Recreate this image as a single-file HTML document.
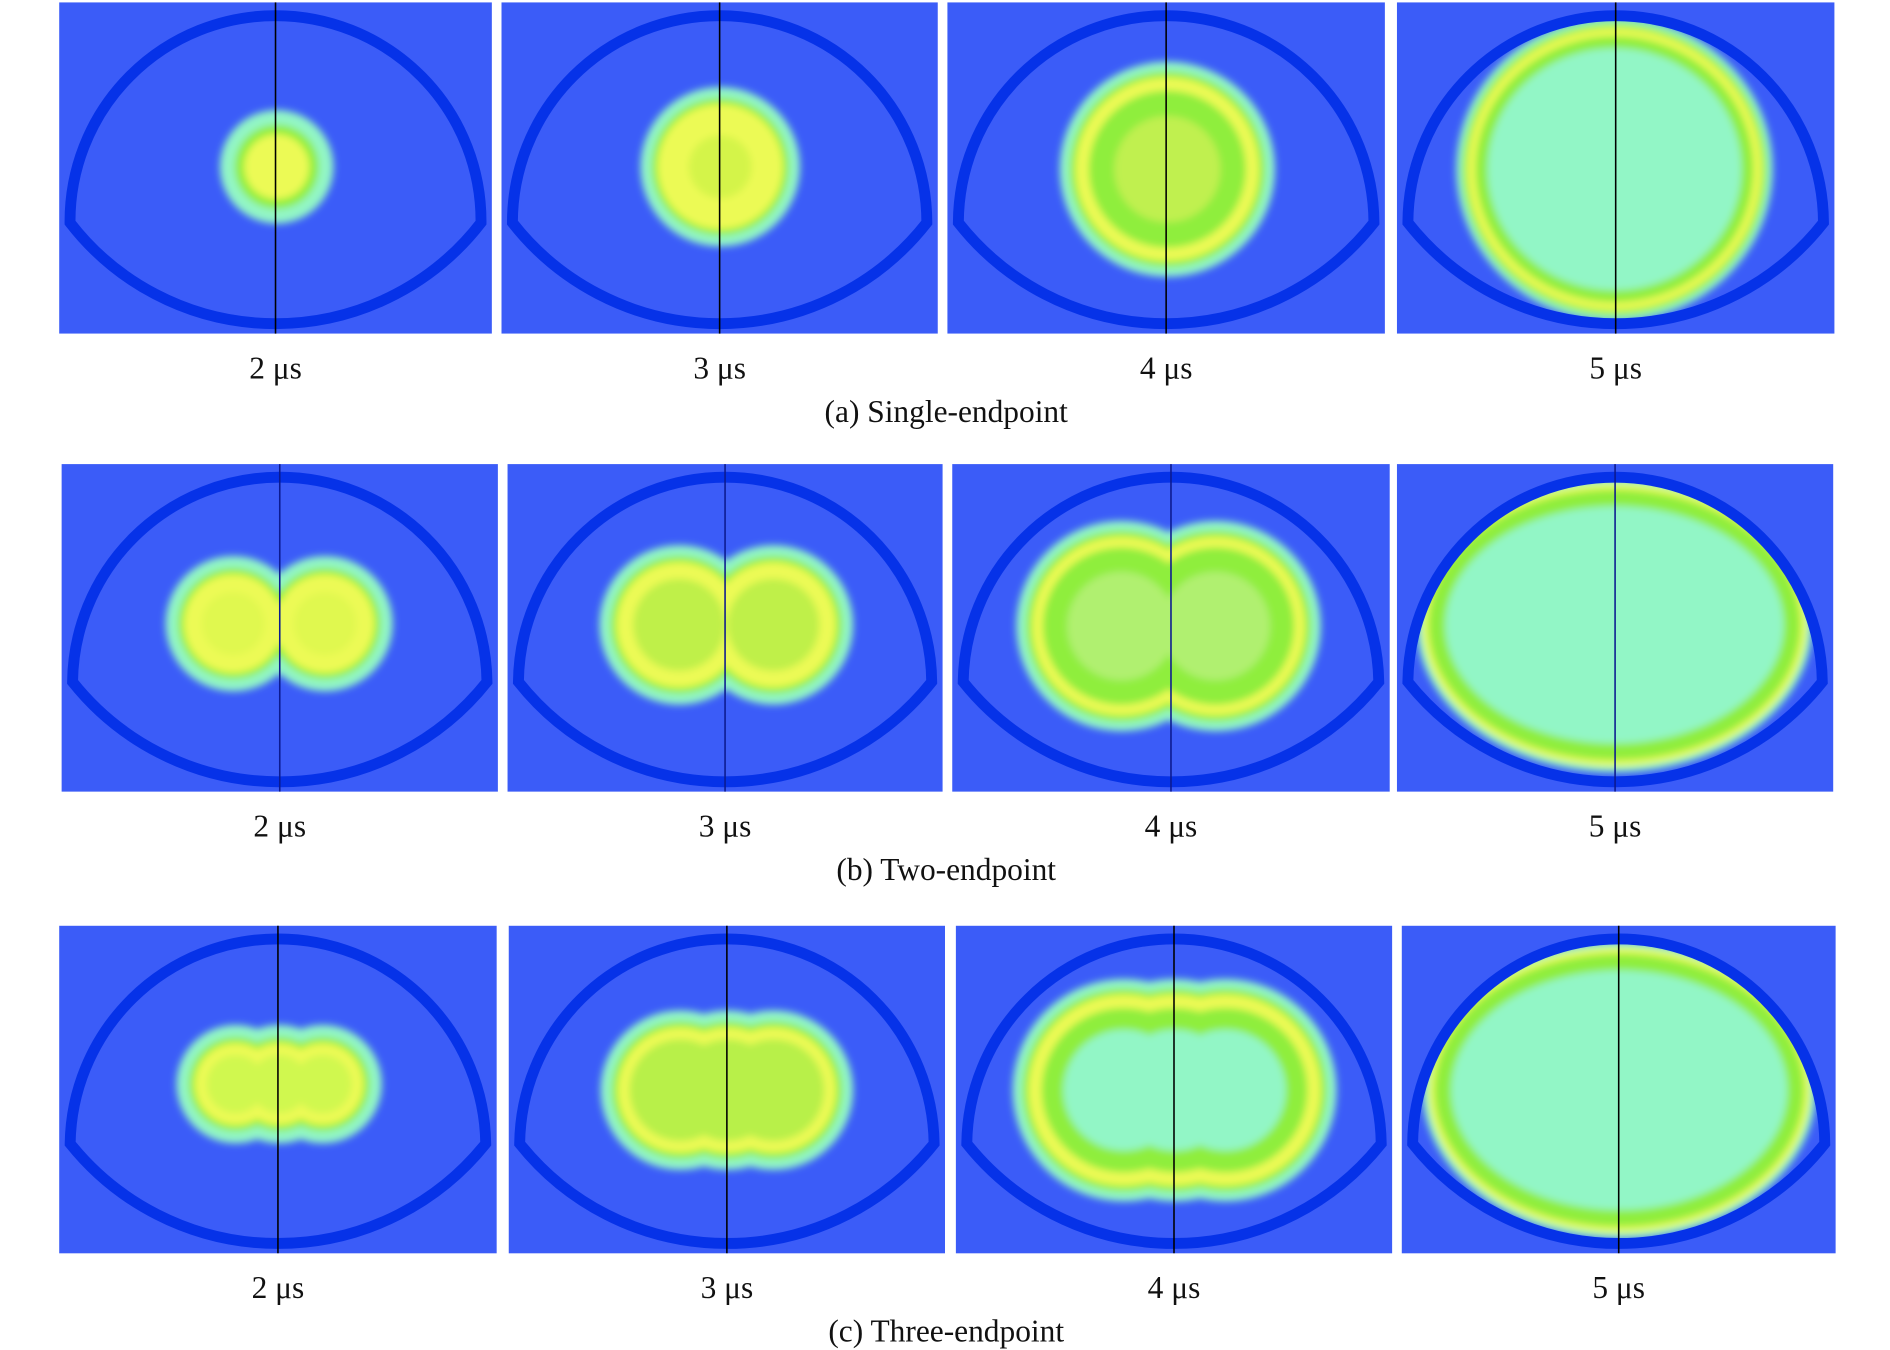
<!DOCTYPE html>
<html><head><meta charset="utf-8"><style>
html,body{margin:0;padding:0;background:#fff;}
svg{display:block;}
text{font-family:"Liberation Serif",serif;font-size:26px;fill:#111;}
</style></head><body>
<svg id="s" width="1890" height="1350" viewBox="0 0 1564 1117" preserveAspectRatio="none" xmlns="http://www.w3.org/2000/svg">
<defs><filter id="bl" x="-20%" y="-20%" width="140%" height="140%"><feGaussianBlur stdDeviation="3"/></filter></defs>
</svg>
<script>
const C='#92f6c6',G='#8fee3c',Y='#ecfa55';
const s=document.getElementById('s');let out='';
function panel(id,x1,y1,x2,y2,blobs,layers,lc){
 const w=x2-x1,h=y2-y1;
 const Lx=x1+0.025*w,Rx=x1+0.975*w,cy=y1+0.665*h,c=(Rx-Lx)/2;
 const s1=0.625*h,s2=0.305*h;
 let r1=(c*c+s1*s1)/(2*s1);r1=Math.max(r1,c);const r2=(c*c+s2*s2)/(2*s2);
 const la=s1>c?1:0;
 const d=`M${Lx},${cy} A${r1},${r1} 0 ${la} 1 ${Rx},${cy} A${r2},${r2} 0 0 1 ${Lx},${cy} Z`;
 out+=`<rect x="${x1}" y="${y1}" width="${w}" height="${h}" fill="#3b5cf8"/>`;
 out+=`<clipPath id="cp${id}"><path d="${d}"/></clipPath>`;
 out+=`<g clip-path="url(#cp${id})"><g filter="url(#bl)">`;
 for(const [dd,col] of layers){
  for(const b of blobs){
   if(b.length==3){const r=b[2]-dd;if(r>0)out+=`<circle cx="${b[0]}" cy="${b[1]}" r="${r}" fill="${col}"/>`;}
   else{const rx=b[2]-dd,ry=b[3]-dd;if(rx>0&&ry>0)out+=`<ellipse cx="${b[0]}" cy="${b[1]}" rx="${rx}" ry="${ry}" fill="${col}"/>`;}
  }
 }
 out+=`</g></g>`;
 out+=`<path d="${d}" fill="none" stroke="#0632e8" stroke-width="9"/>`;
 const mx=(x1+x2)/2;
 out+=`<line x1="${mx}" y1="${y1}" x2="${mx}" y2="${y2}" stroke="${lc}" stroke-width="1.3"/>`;
}
const P={a:[[49,2,407,276],[415,2,776,276],[784,2,1146,276],[1156,2,1518,276]],
 b:[[51,384,412,655],[420,384,780,655],[788,384,1150,655],[1156,384,1517,655]],
 c:[[49,766,411,1037],[421,766,782,1037],[791,766,1152,1037],[1160,766,1519,1037]]};
panel(1,...P.a[0],[[229,138,47]],[[0,C],[12,G],[20,Y]],'#000');
panel(2,...P.a[1],[[596,138,66]],[[0,C],[9,G],[14,Y],[40,'#d4f448']],'#000');
panel(3,...P.a[2],[[966,140,89]],[[0,C],[8,G],[13,Y],[24,G],[45,'#c0f050']],'#000');
panel(4,...P.a[3],[[1336,140,131,126]],[[0,C],[5,G],[9,Y],[16,G],[26,C]],'#000');
panel(5,...P.b[0],[[193,516,56],[269,516,56]],[[0,C],[10,G],[15,Y],[30,'#e0f850']],'#0c1a90');
panel(6,...P.b[1],[[562,517,66],[640,517,66]],[[0,C],[9,G],[14,Y],[28,'#bff04a']],'#0c1a90');
panel(7,...P.b[2],[[928,518,87],[1006,518,87]],[[0,C],[8,G],[13,Y],[22,G],[42,'#b0f070']],'#0c1a90');
panel(8,...P.b[3],[[1336,517,164,122]],[[0,C],[5,Y],[10,G],[24,C]],'#0c1a90');
panel(9,...P.c[0],[[195,897,49],[231,897,49],[267,897,49]],[[0,C],[10,G],[15,Y],[25,'#d0f850']],'#000');
panel(10,...P.c[1],[[563,902,66],[602,902,66],[640,902,66]],[[0,C],[9,G],[14,Y],[24,'#b8f048']],'#000');
panel(11,...P.c[2],[[930,902,92],[972,902,92],[1014,902,92]],[[0,C],[8,G],[13,Y],[24,G],[42,C]],'#000');
panel(12,...P.c[3],[[1340,902,163,123]],[[0,C],[5,Y],[10,G],[24,C]],'#000');
const labs=['2 μs','3 μs','4 μs','5 μs'];
[['a',313,'(a) Single-endpoint',349],['b',692,'(b) Two-endpoint',728],['c',1074,'(c) Three-endpoint',1110]].forEach(([k,y,cap,cy])=>{
 P[k].forEach((p,i)=>{out+=`<text x="${(p[0]+p[2])/2}" y="${y}" text-anchor="middle">${labs[i]}</text>`;});
 out+=`<text x="783" y="${cy}" text-anchor="middle">${cap}</text>`;
});
s.insertAdjacentHTML('beforeend',out);
</script>
</body></html>
